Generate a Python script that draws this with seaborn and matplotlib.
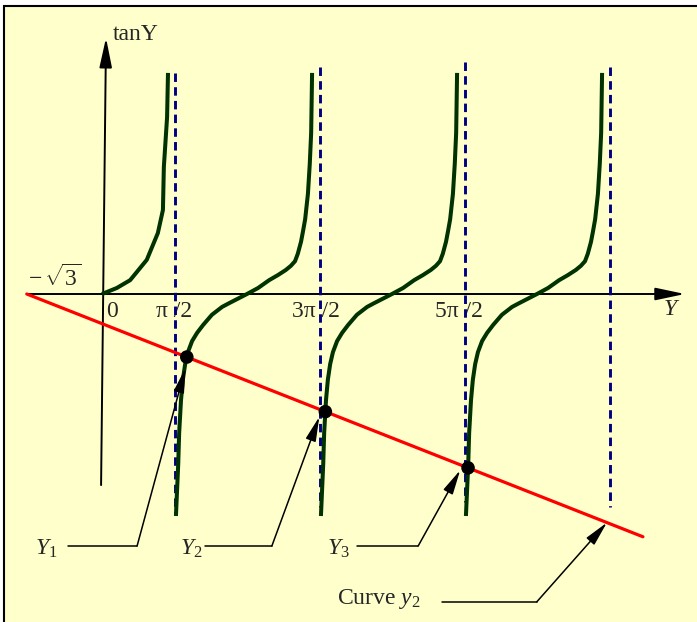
import numpy as np
import matplotlib
matplotlib.use("Agg")
import matplotlib.pyplot as plt
from matplotlib.patches import Rectangle
import seaborn as sns

# ---- data -------------------------------------------------------------
# One sketched full branch of tan Y, as offsets from its zero crossing
# (horizontal in radians, vertical in tan units).
branch_dx = [-1.54, -1.49, -1.47, -1.43, -1.39, -1.34, -1.28, -1.19, -1.08,
             -0.95, -0.76, -0.54, -0.39, 0.00, 0.24, 0.48, 0.67, 0.84, 0.95,
             1.04, 1.10, 1.17, 1.21, 1.26, 1.32, 1.36, 1.39, 1.41]
branch_dy = [-4.81, -3.68, -3.01, -2.30, -1.86, -1.52, -1.26, -1.02, -0.84,
             -0.67, -0.45, -0.28, -0.20, 0.00, 0.13, 0.30, 0.41, 0.52, 0.61,
             0.71, 0.87, 1.13, 1.34, 1.62, 2.17, 2.82, 3.49, 4.79]
# zero crossings of the full branches, in multiples of pi
branch_centres = [1, 2, 3]

# first half-branch, from the origin up to pi/2
first_x = [0.00, 0.32, 0.61, 0.97, 1.21, 1.32, 1.34, 1.41, 1.43]
first_y = [0.00, 0.13, 0.30, 0.74, 1.32, 1.82, 2.75, 3.83, 4.79]

# asymptotes (multiples of pi) and the extent of their dashed lines
asym_mult = [0.5, 1.5, 2.5, 3.5]
asym_top = [4.79, 4.92, 5.03, 4.92]
asym_bottom = [-4.74, -4.62, -4.51, -4.62]
tick_labels = ["π /2", "3π /2", "5π /2"]
tick_shift = [-0.02, -0.07, -0.12]

# straight line y2
line_x = [-1.63, 11.72]
line_y = [0.0, -5.26]

# ---- style ------------------------------------------------------------
sns.set_style("white")
plt.rcParams["font.family"] = ["Liberation Serif", "DejaVu Serif"]
plt.rcParams["mathtext.fontset"] = "custom"
plt.rcParams["mathtext.rm"] = "Liberation Serif"
plt.rcParams["mathtext.it"] = "Liberation Serif:italic"
plt.rcParams["mathtext.bf"] = "Liberation Serif:bold"

GREEN = "#003300"
NAVY = "#000080"
RED = "#FF0000"
BG = "#FFFFCC"
FS = 17

W, H = 697, 622
scale = 145 / np.pi          # pixels per unit
ox, oy = 102, 294            # origin position in pixels

fig = plt.figure(figsize=(W / 100, H / 100), dpi=100)
fig.patch.set_facecolor("white")
ax = fig.add_axes([0, 0, 1, 1])
ax.set_xlim(-ox / scale, (W - ox) / scale)
ax.set_ylim(-(H - oy) / scale, oy / scale)
ax.set_axis_off()

# panel background and its top/left frame
ax.add_patch(Rectangle((4 / W, 0), 1, 1 - 6 / H, transform=ax.transAxes,
                       facecolor=BG, edgecolor="none", zorder=0, clip_on=False))
ax.plot([4 / W, 4 / W, 1], [0, 1 - 6 / H, 1 - 6 / H], transform=ax.transAxes,
        color="black", lw=1.5, clip_on=False, zorder=1,
        solid_joinstyle="miter")

# ---- axes with arrows ---------------------------------------------------
axis_arrow = dict(arrowstyle="-|>,head_length=1.8,head_width=0.38",
                  mutation_scale=10, lw=1.4, color="black",
                  shrinkA=0, shrinkB=0)
ax.annotate("", xy=(12.63, 0), xytext=(-1.625, 0), arrowprops=axis_arrow,
            zorder=2)
ax.annotate("", xy=(0.087, 5.55), xytext=(-0.02, -4.14), arrowprops=axis_arrow,
            zorder=2)

# ---- tick and axis labels ---------------------------------------------
ax.text(0.10, -0.50, "0", fontsize=FS, ha="left", va="baseline", zorder=1)
for m, lab, sh in zip(asym_mult, tick_labels, tick_shift):
    ax.text(m * np.pi + sh, -0.50, lab, fontsize=FS, ha="center",
            va="baseline", zorder=1)
ax.text(0.24, 5.51, "tanY", fontsize=FS, ha="left", va="baseline")
ax.text(12.35, -0.46, "$Y$", fontsize=FS, ha="center", va="baseline")
ax.text(-1.60, 0.17, r"$-\,\sqrt{3}$", fontsize=FS, ha="left", va="baseline")

# ---- asymptotes -------------------------------------------------------
for m, t, b in zip(asym_mult, asym_top, asym_bottom):
    ax.plot([m * np.pi, m * np.pi], [t, b], color=NAVY, lw=2.1,
            linestyle=(0, (2.9, 1.8)), zorder=2)

# ---- tan branches -----------------------------------------------------
curve_kw = dict(sort=False, estimator=None, color=GREEN, lw=2.9, ax=ax,
                zorder=3, solid_joinstyle="round", solid_capstyle="butt")
sns.lineplot(x=first_x, y=first_y, **curve_kw)
dx = np.array(branch_dx)
dy = np.array(branch_dy)
for c in branch_centres:
    sns.lineplot(x=c * np.pi + dx, y=dy, **curve_kw)

# ---- the line y2 ------------------------------------------------------
sns.lineplot(x=line_x, y=line_y, sort=False, estimator=None, color=RED,
             lw=2.3, ax=ax, zorder=4)
slope = (line_y[1] - line_y[0]) / (line_x[1] - line_x[0])


def line_at(x):
    return line_y[0] + slope * (np.asarray(x) - line_x[0])


# intersections of the line with the lower half of each full branch
roots_x, roots_y = [], []
for c in branch_centres:
    xs = c * np.pi + dx
    f = dy - line_at(xs)
    for j in range(len(xs) - 1):
        if f[j] * f[j + 1] <= 0 and f[j] != f[j + 1]:
            t = f[j] / (f[j] - f[j + 1])
            xr = xs[j] + t * (xs[j + 1] - xs[j])
            roots_x.append(xr)
            roots_y.append(float(line_at(xr)))
            break
sns.scatterplot(x=roots_x, y=roots_y, s=95, color="black", edgecolor="none",
                ax=ax, zorder=6)

# ---- callouts ---------------------------------------------------------
lead_arrow = dict(arrowstyle="-|>,head_length=1.5,head_width=0.32",
                  mutation_scale=10, lw=1.1, color="black",
                  shrinkA=0, shrinkB=0)
callouts = [
    ("$Y_1$", -1.45, (-0.74, 0.76), (-0.03, -0.24)),
    ("$Y_2$", 1.69, (2.23, 3.68), (-0.13, -0.11)),
    ("$Y_3$", 4.87, (5.52, 6.85), (-0.17, -0.05)),
]
for (lab, lx, (x0, x1), (ddx, ddy)), rx, ry in zip(callouts, roots_x, roots_y):
    ax.text(lx, -5.65, lab, fontsize=FS, ha="left", va="baseline")
    ax.plot([x0, x1], [-5.46, -5.46], color="black", lw=1.1, zorder=5)
    ax.annotate("", xy=(rx + ddx, ry + ddy), xytext=(x1, -5.46),
                arrowprops=lead_arrow, zorder=5)

ax.text(5.09, -6.72, "Curve $y_2$", fontsize=FS, ha="left", va="baseline")
ax.plot([7.37, 9.42], [-6.67, -6.67], color="black", lw=1.1, zorder=5)
ax.annotate("", xy=(10.94, float(line_at(10.94))), xytext=(9.42, -6.67),
            arrowprops=lead_arrow, zorder=5)

fig.savefig("out.png", dpi=100, facecolor=fig.get_facecolor())
